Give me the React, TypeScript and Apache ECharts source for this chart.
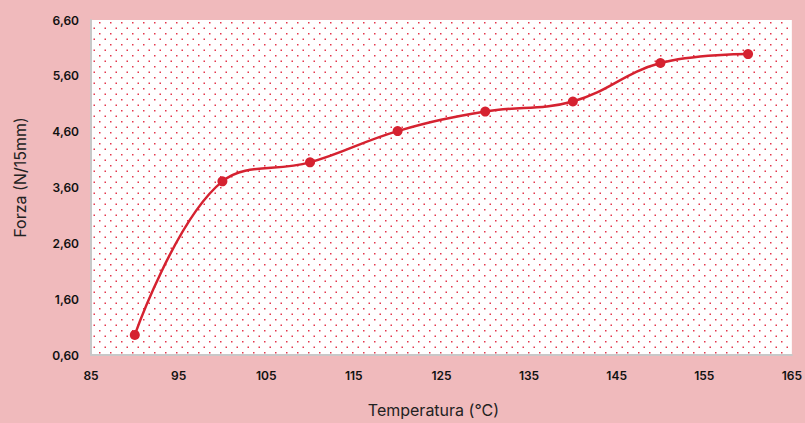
import React, { useEffect, useRef } from "react";
import * as echarts from "echarts";

const temperatures = [90, 100, 110, 120, 130, 140, 150, 160];
const forces = [0.96, 3.71, 4.05, 4.61, 4.96, 5.14, 5.83, 5.99];
const xTickLabels = [85, 95, 105, 115, 125, 135, 145, 155, 165];
const yTickLabels = [0.6, 1.6, 2.6, 3.6, 4.6, 5.6, 6.6];

function makeDotPattern(): string {
  const c = document.createElement("canvas");
  c.width = 11;
  c.height = 11;
  const ctx = c.getContext("2d")!;
  ctx.fillStyle = "#ffffff";
  ctx.fillRect(0, 0, 11, 11);
  ctx.fillStyle = "#e3374c";
  ctx.fillRect(0, 0, 1.5, 1.5);
  ctx.fillRect(5.5, 5.5, 1.5, 1.5);
  return c.toDataURL();
}

export default function App() {
  const ref = useRef<HTMLDivElement>(null);
  useEffect(() => {
    if (!ref.current) return;
    const chart = echarts.init(ref.current, null, { renderer: "svg" });
    const pattern = makeDotPattern();
    const near = (v: number, arr: number[]) => arr.some((a) => Math.abs(a - v) < 1e-6);
    chart.setOption({
      animation: false,
      backgroundColor: "#f0babc",
      grid: {
        left: 91,
        top: 20,
        right: 10,
        bottom: 66,
        show: true,
        borderWidth: 0,
        backgroundColor: { image: pattern, repeat: "repeat", imageWidth: 11, imageHeight: 11 },
      },
      xAxis: {
        type: "value",
        min: 85,
        max: 165,
        interval: 5,
        name: "Temperatura (°C)",
        nameLocation: "middle",
        nameGap: 47,
        nameTextStyle: { fontFamily: "Inter", fontSize: 16, color: "#222", padding: [0, 16, 0, 0] },
        axisLine: { show: true, lineStyle: { color: "#c8c8c8", width: 2 } },
        axisTick: { show: false },
        splitLine: { show: false },
        axisLabel: {
          margin: 14,
          fontFamily: "Inter",
          fontWeight: 600,
          fontSize: 12,
          color: "#111",
          formatter: (v: number) => (near(v, xTickLabels) ? String(v) : ""),
        },
      },
      yAxis: {
        type: "value",
        min: 0.6,
        max: 6.6,
        interval: 0.2,
        name: "Forza (N/15mm)",
        nameLocation: "middle",
        nameGap: 63,
        nameRotate: 90,
        nameTextStyle: { fontFamily: "Inter", fontSize: 16, color: "#222", padding: [0, 0, 0, 20] },
        axisLine: { show: true, lineStyle: { color: "#c8c8c8", width: 2 } },
        axisTick: { show: false },
        splitLine: { show: false },
        axisLabel: {
          margin: 12,
          fontFamily: "Inter",
          fontWeight: 600,
          fontSize: 12,
          color: "#111",
          formatter: (v: number) => (near(v, yTickLabels) ? v.toFixed(2).replace(".", ",") : ""),
        },
      },
      series: [
        {
          type: "line",
          data: temperatures.map((t, i) => [t, forces[i]]),
          smooth: 0.4,
          symbol: "circle",
          symbolSize: 10,
          lineStyle: { color: "#d52230", width: 2.5 },
          itemStyle: { color: "#d52230" },
        },
      ],
    });
    return () => chart.dispose();
  }, []);
  return <div ref={ref} style={{ width: 805, height: 423, position: "absolute", left: 0, top: 0 }} />;
}
